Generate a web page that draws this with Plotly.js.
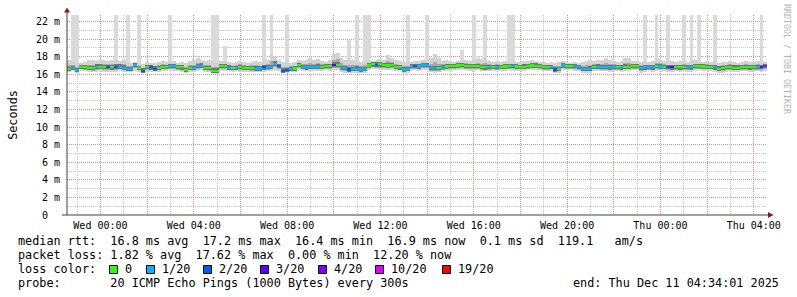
<!DOCTYPE html>
<html><head><meta charset="utf-8">
<script src="https://cdn.plot.ly/plotly-3.0.1.min.js"></script>
<style>html,body{margin:0;padding:0;background:#fff;overflow:hidden}#chart{width:797px;height:297px}</style>
</head><body><div id="chart"></div>
<script>
// ---------------- data ----------------
const startTime = '2025-12-09T22:40:00Z';   // first 10-minute step
const stepMinutes = 10;

const medianRtt = [
16.57,16.68,16.45,16.80,16.80,16.70,16.68,16.86,16.86,16.80,
16.80,16.78,16.86,16.86,16.75,16.60,16.62,17.05,16.68,16.40,
16.80,16.78,16.65,16.68,16.80,16.80,16.93,16.92,16.80,16.78,
16.49,16.70,16.68,16.95,16.99,16.70,16.68,16.40,16.40,16.90,
16.93,16.75,16.68,16.72,16.80,16.72,16.68,16.70,16.65,16.66,
16.78,16.82,16.85,17.20,16.90,16.42,16.45,16.62,16.66,17.05,
16.80,16.78,16.80,16.85,16.86,16.84,16.93,16.92,17.08,17.10,
16.70,16.68,16.55,16.58,16.65,16.55,16.60,17.00,17.12,17.10,
17.12,17.05,17.00,17.02,16.80,16.78,16.55,16.58,16.90,16.92,
16.88,17.05,17.02,16.70,16.68,16.70,16.82,16.88,16.90,16.92,
17.00,17.02,16.95,16.92,16.90,16.92,16.80,16.78,16.80,16.82,
16.80,16.85,16.88,16.90,16.92,16.88,16.85,16.86,16.95,17.00,
16.98,16.95,16.80,16.80,16.85,16.55,16.62,17.00,16.95,16.92,
16.90,16.80,16.62,16.60,16.65,16.85,16.86,16.80,16.80,16.78,
16.80,16.80,16.78,16.86,16.85,16.90,16.92,16.70,16.78,16.80,
16.78,16.90,16.88,16.85,16.80,16.78,16.80,16.78,16.82,16.80,
16.78,16.90,16.92,16.88,16.85,16.84,16.78,16.65,16.68,16.80,
16.82,16.76,16.74,16.80,16.82,16.78,16.80,16.82,16.80,16.90];

const lostPings = [
0,1,1,0,0,0,0,1,0,0,
2,0,2,1,1,1,1,1,0,2,
0,2,2,0,0,0,1,1,0,0,
0,0,1,1,1,0,0,0,0,0,
0,1,0,1,0,0,0,0,1,1,
2,1,1,1,2,2,2,1,0,0,
1,1,1,1,1,0,0,0,3,0,
1,1,2,1,1,1,1,0,0,2,
0,0,0,0,0,0,1,1,1,2,
1,1,1,1,1,0,1,0,0,0,
0,0,0,0,0,0,0,0,1,0,
1,0,0,0,1,0,0,0,0,0,
0,0,0,0,1,2,0,1,0,0,
1,1,1,1,1,0,1,1,1,1,
1,0,1,0,0,0,0,1,1,1,
1,0,1,0,2,3,0,0,0,1,
1,0,0,0,0,0,1,0,0,0,
0,0,0,0,0,0,0,1,4,2];

const smokeHigh = [
17.6,17.4,17.3,17.3,17.4,17.6,17.6,17.5,17.6,17.6,
17.5,17.6,17.6,17.5,17.6,17.4,17.3,17.4,17.3,17.2,
17.4,17.3,17.3,17.4,17.5,17.4,17.4,17.5,17.3,17.4,
17.3,17.5,17.6,17.8,17.6,17.5,17.6,17.4,17.3,17.5,
17.5,17.4,17.3,17.4,17.5,17.4,17.3,17.4,17.5,17.4,
17.5,17.6,18.3,18.0,17.6,17.4,17.4,17.3,17.4,17.6,
17.5,17.6,17.8,17.6,17.7,17.5,17.4,17.6,18.3,18.4,
17.9,17.6,17.6,17.6,17.5,17.4,17.5,17.6,17.5,17.6,
17.7,17.6,18.2,17.9,17.6,17.5,17.4,17.5,17.4,17.5,
17.5,17.6,17.4,17.8,18.3,17.8,17.5,17.6,17.5,17.4,
17.5,17.6,17.6,17.5,17.6,17.8,17.7,17.8,17.5,17.4,
17.5,17.4,17.5,17.4,17.5,17.4,17.4,17.5,17.5,17.6,
17.5,17.4,17.4,17.3,17.4,17.3,17.4,17.5,17.4,17.3,
17.4,17.3,17.4,17.5,17.6,17.5,17.6,17.6,17.9,17.6,
17.5,17.4,17.5,17.9,17.8,17.5,17.5,17.4,17.5,17.4,
17.5,17.8,17.7,17.5,17.4,17.5,17.4,17.5,17.5,17.4,
17.5,17.6,17.5,17.4,17.5,17.4,17.5,17.3,17.4,17.4,
17.5,17.4,17.3,17.4,17.5,17.4,17.4,17.5,17.4,17.4];

const smokeLow = [
16.30,16.35,16.15,16.40,16.35,16.30,16.25,16.30,16.35,16.30,
16.25,16.30,16.30,16.35,16.30,16.25,16.30,16.40,16.30,16.10,
16.30,16.30,16.30,16.30,16.40,16.40,16.45,16.40,16.35,16.30,
16.15,16.30,16.30,16.40,16.45,16.30,16.25,16.10,16.05,16.40,
16.40,16.35,16.30,16.35,16.30,16.30,16.30,16.25,16.25,16.30,
16.30,16.35,16.40,16.50,16.40,16.10,16.10,16.25,16.30,16.50,
16.40,16.35,16.40,16.40,16.35,16.40,16.45,16.40,16.50,16.50,
16.30,16.20,16.10,16.15,16.20,16.15,16.20,16.50,16.55,16.55,
16.50,16.50,16.45,16.50,16.40,16.35,16.20,16.20,16.40,16.45,
16.40,16.50,16.45,16.25,16.20,16.25,16.35,16.40,16.40,16.45,
16.50,16.50,16.45,16.40,16.40,16.45,16.35,16.35,16.35,16.40,
16.35,16.40,16.40,16.45,16.40,16.40,16.40,16.40,16.45,16.50,
16.50,16.45,16.35,16.35,16.40,16.15,16.20,16.50,16.45,16.45,
16.40,16.35,16.20,16.15,16.20,16.40,16.40,16.35,16.35,16.30,
16.35,16.35,16.30,16.40,16.40,16.45,16.45,16.10,16.30,16.35,
16.30,16.40,16.40,16.40,16.30,16.30,16.35,16.30,16.35,16.30,
16.30,16.40,16.45,16.40,16.40,16.40,16.30,16.20,16.20,16.30,
16.35,16.30,16.30,16.35,16.35,16.30,16.35,16.35,16.30,16.40];

// outlier pings (step index, highest ping in ms)
const spikeIndex = [1,2,12,15,18,26,37,38,40,50,52,56,72,74,76,77,87,92,101,104,107,113,114,148,151,154,158,160,162,166,178];
const spikeTop   = [23,23,23,23,23,23,23,23,19.2,23,23,23,19.9,23,23,23,23,23,18.8,23,23,23,23,23,23,23,23,23,23,23,23];

const xTickTimes = ['2025-12-10 00:00','2025-12-10 02:00','2025-12-10 04:00','2025-12-10 06:00','2025-12-10 08:00',
  '2025-12-10 10:00','2025-12-10 12:00','2025-12-10 14:00','2025-12-10 16:00','2025-12-10 18:00','2025-12-10 20:00',
  '2025-12-10 22:00','2025-12-11 00:00','2025-12-11 02:00','2025-12-11 04:00'];
const xTickLabels = ['Wed 00:00','','Wed 04:00','','Wed 08:00','','Wed 12:00','','Wed 16:00','','Wed 20:00','','Thu 00:00','','Thu 04:00'];
const yTickValues = [0,2,4,6,8,10,12,14,16,18,20,22];
const yTickLabels = ['0\u00a0\u00a0','2 m','4 m','6 m','8 m','10 m','12 m','14 m','16 m','18 m','20 m','22 m'];

const lossLevels = [0,1,2,3,4,10,19];
const lossLabels = ['0','1/20','2/20','3/20','4/20','10/20','19/20'];
const lossColors = ['#26ff00','#00b8ff','#0059ff','#5e00ff','#7e00ff','#dd00ff','#ff0000'];

const statLines = [
  'median rtt:  16.8 ms avg  17.2 ms max  16.4 ms min  16.9 ms now  0.1 ms sd  119.1   am/s',
  'packet loss: 1.82 % avg  17.62 % max  0.00 % min  12.20 % now',
  'loss color:',
  'probe:       20 ICMP Echo Pings (1000 Bytes) every 300s'
];
const endText = 'end: Thu Dec 11 04:34:01 2025';

// ---------------- build ----------------
const stepMs = stepMinutes * 60000;
const t0 = Date.parse(startTime);
const fmt = ms => new Date(ms).toISOString().replace('T',' ').slice(0,19);
const times = medianRtt.map((_, i) => fmt(t0 + i * stepMs));

function lossColor(n){ let c = lossColors[0]; lossLevels.forEach((l,k)=>{ if(n>=l) c = lossColors[k]; }); return c; }

function band(bottoms, tops, color, xs){
  return {type:'bar', x: xs || times, base: bottoms, y: tops.map((t,i)=>t-bottoms[i]),
    width: stepMs, marker:{color: color, line:{width:0}}, hoverinfo:'skip', showlegend:false};
}
const midLo = medianRtt.map((m,i)=> m - (m - smokeLow[i]) * 0.6);
const midHi = medianRtt.map((m,i)=> m + (smokeHigh[i] - m) * 0.45);
const darkLo = medianRtt.map(m => m - 0.24);
const darkHi = medianRtt.map(m => m + 0.26);
const medLo = medianRtt.map(m => m - 0.12);
const medHi = medianRtt.map(m => m + 0.12);

const traces = [
  band(smokeLow, smokeHigh, '#d2d2d2'),
  band(spikeIndex.map(i=>smokeHigh[i]), spikeTop, '#dadada', spikeIndex.map(i=>times[i])),
  band(midLo, midHi, '#a9a9a9'),
  band(darkLo, darkHi, '#747474'),
  band(medLo, medHi, lostPings.map(lossColor))
];

// pixel helpers for decoration (plot area 67..767 x 15..215)
const PX = x => (x - 67) / 700;
const PY = y => (215 - y) / 200;
const mono = 'DejaVu Sans Mono';

const shapes = [
  {type:'line', xref:'paper', yref:'paper', x0:PX(67), x1:PX(67), y0:PY(215), y1:PY(11), line:{color:'#404040', width:1}, layer:'above'},
  {type:'line', xref:'paper', yref:'paper', x0:PX(62), x1:PX(769), y0:PY(215), y1:PY(215), line:{color:'#404040', width:1}, layer:'above'},
  {type:'path', xref:'paper', yref:'paper', path:`M ${PX(64)} ${PY(12.5)} L ${PX(70)} ${PY(12.5)} L ${PX(67)} ${PY(7.5)} Z`, fillcolor:'#a01010', line:{width:0}, layer:'above'},
  {type:'path', xref:'paper', yref:'paper', path:`M ${PX(768)} ${PY(212)} L ${PX(768)} ${PY(218)} L ${PX(773.5)} ${PY(215)} Z`, fillcolor:'#a01010', line:{width:0}, layer:'above'}
];
const boxX = [109,146,203,260,318,375,442];
const annotations = [];
const addText = (txt, x, y, opts={}) => annotations.push(Object.assign({
  text: txt.replace(/ /g,'\u00a0'), xref:'paper', yref:'paper', x:PX(x), y:PY(y), xanchor:'left', yanchor:'middle',
  showarrow:false, font:{family:mono, size:11.8, color:'#000'}}, opts));
[241,255,269,283].forEach((y,k)=> addText(statLines[k], 15.5, y));
addText(endText, 781, 283, {xanchor:'right'});
lossLabels.forEach((lab,k)=>{
  shapes.push({type:'rect', xref:'paper', yref:'paper', x0:PX(boxX[k]+0.5), x1:PX(boxX[k]+8.5), y0:PY(265.5), y1:PY(273.5),
    fillcolor: lossColors[k], line:{color:'#000', width:1}, layer:'above'});
  addText(lab, boxX[k]+13.5, 269);
});
addText('RRDTOOL / TOBI OETIKER', 787, 59, {xanchor:'center', textangle:90, font:{family:mono, size:8.3, color:'#b4b4b4'}});

const layout = {
  width:797, height:297, autosize:false,
  margin:{l:67, r:30, t:15, b:82, pad:0},
  paper_bgcolor:'#fff', plot_bgcolor:'#fff',
  barmode:'overlay', bargap:0, showlegend:false, hovermode:false,
  xaxis:{type:'date', range:['2025-12-09 22:34:01','2025-12-11 04:34:01'],
    tickmode:'array', tickvals:xTickTimes, ticktext:xTickLabels, ticks:'', ticklabelstandoff:3,
    tickfont:{family:mono, size:10, color:'#000'}, tickangle:0,
    showgrid:true, gridcolor:'#ee8888', griddash:'1px,1px', gridwidth:1,
    minor:{tickmode:'linear', tick0:'2025-12-09 00:00', dtick:3600000, showgrid:true, gridcolor:'#c8c8c8', griddash:'1px,1px', ticks:''},
    zeroline:false, showline:false, fixedrange:true},
  yaxis:{range:[0,22.74], tickmode:'array', tickvals:yTickValues, ticktext:yTickLabels, ticks:'',
    tickfont:{family:mono, size:10, color:'#000'}, ticklabelstandoff:6,
    showgrid:true, gridcolor:'#ee8888', griddash:'1px,1px', gridwidth:1,
    minor:{tickmode:'linear', tick0:0, dtick:1, showgrid:true, gridcolor:'#c8c8c8', griddash:'1px,1px', ticks:''},
    zeroline:false, showline:false, fixedrange:true,
    title:{text:'Seconds', font:{family:mono, size:11.8, color:'#000'}, standoff:15}},
  shapes: shapes, annotations: annotations
};
Plotly.newPlot('chart', traces, layout, {staticPlot:true, displayModeBar:false});
</script></body></html>
